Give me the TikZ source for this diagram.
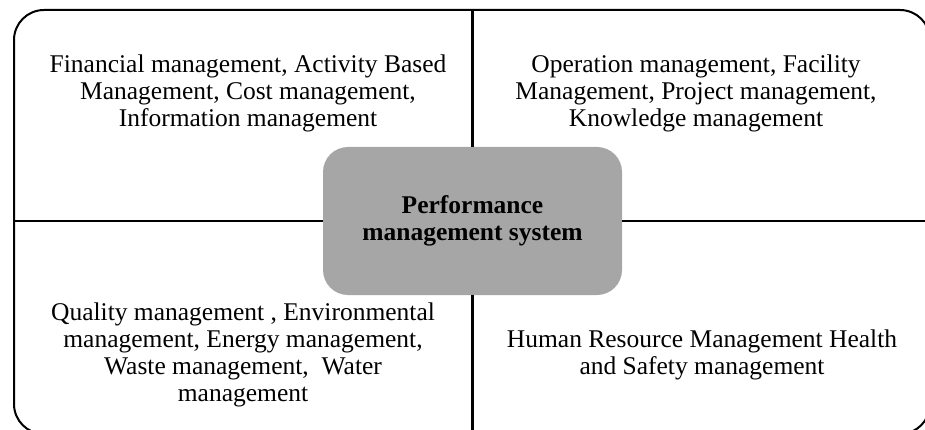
\documentclass[tikz,border=0pt]{standalone}
\usepackage{fontspec}
\setmainfont{Liberation Serif}
\definecolor{hubgray}{HTML}{A6A6A6}
\begin{document}
\begin{tikzpicture}[x=1pt,y=-1pt,
  quad/.style={align=center,inner sep=0pt,font=\fontsize{25.5}{27}\selectfont},
  hub/.style={fill=hubgray,rounded corners=25pt,minimum width=299pt,minimum height=148pt,inner sep=0pt,outer sep=0pt,align=center,font=\fontsize{25.5}{27}\selectfont\bfseries},
  frame/.style={draw,line width=2pt,rounded corners=30pt,minimum width=916pt,minimum height=424pt,inner sep=0pt,outer sep=0pt},
  divider/.style={line width=2.2pt}]
\useasboundingbox (0,0) rectangle (925,430);
\node[frame] (outer) at (472,222) {};
\node[hub] (hub) at (472.5,221) {Performance\\management system};
\draw[divider] (hub.north |- outer.north) -- (hub.north);
\draw[divider] (hub.south) -- (hub.south |- outer.south);
\draw[divider] (hub.west) -- (hub.west -| outer.west);
\draw[divider] (hub.east) -- (hub.east -| outer.east);
\node[quad] (fin) at (248,93) {Financial management, Activity Based\\Management, Cost management,\\Information management};
\node[quad] (ops) at (696,93) {Operation management, Facility\\Management, Project management,\\Knowledge management};
\node[quad] (qual) at (243,355) {Quality management , Environmental\\management, Energy management,\\Waste management,~ Water\\management};
\node[quad] (hr) at (702,355) {Human Resource Management Health\\and Safety management};
\end{tikzpicture}
\end{document}
